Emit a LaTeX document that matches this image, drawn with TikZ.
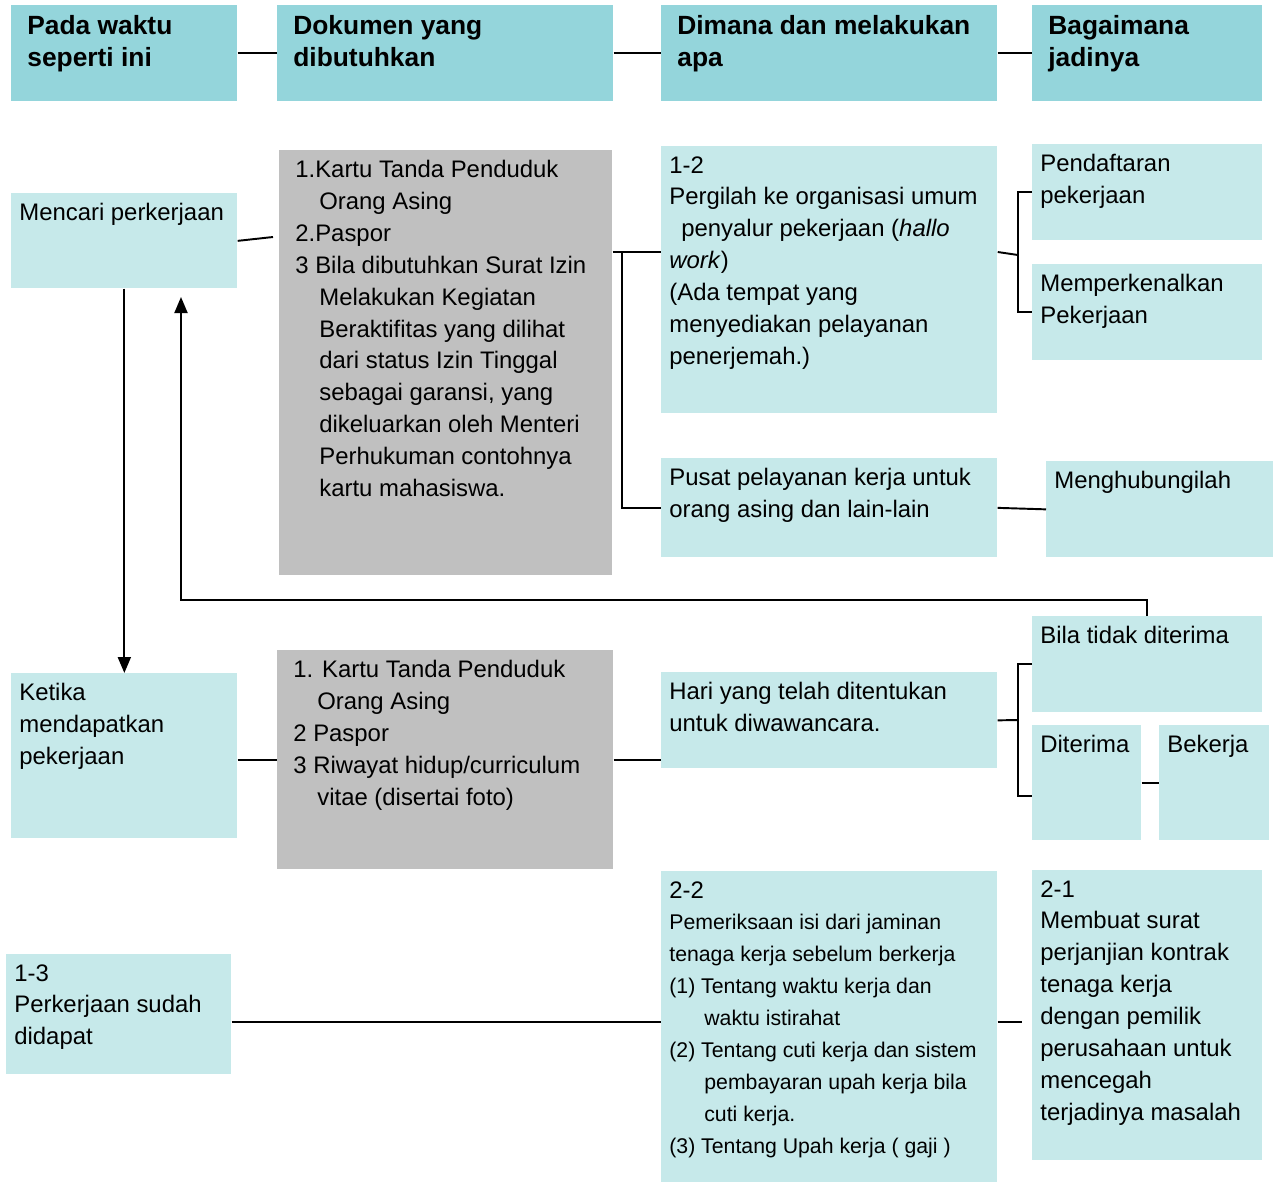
\documentclass[tikz,border=0pt]{standalone}
\usepackage{fontspec}
\setmainfont{Liberation Sans}
\usetikzlibrary{positioning,arrows.meta}

\definecolor{headcol}{RGB}{148,213,219}
\definecolor{boxcol}{RGB}{198,233,234}
\definecolor{doccol}{RGB}{192,192,192}

\tikzset{
  headbox/.style={fill=headcol, anchor=north west, inner sep=0pt},
  infobox/.style={fill=boxcol, anchor=north west, inner sep=0pt},
  docbox/.style={fill=doccol, anchor=north west, inner sep=0pt},
  headtext/.style={inner sep=0pt, align=left, font=\fontsize{15}{18.14}\selectfont\bfseries},
  boxtext/.style={inner sep=0pt, align=left, font=\fontsize{13.6}{18.14}\selectfont},
  smalltext/.style={inner sep=0pt, align=left, font=\fontsize{12.1}{18.14}\selectfont},
  link/.style={line width=1.1pt},
  flow/.style={line width=1.1pt, -{Triangle[length=0.32cm,width=0.26cm]}}
}

\begin{document}
\begin{tikzpicture}

    \useasboundingbox (0,0) rectangle (25.48,-23.66);

    % Header row
    \node[headbox, minimum width=4.52cm, minimum height=1.92cm] (pada) at (0.22,-0.10) {};
    \node[headbox, minimum width=6.72cm, minimum height=1.92cm] (dokumen) at (5.54,-0.10) {};
    \node[headbox, minimum width=6.72cm, minimum height=1.92cm] (dimana) at (13.22,-0.10) {};
    \node[headbox, minimum width=4.60cm, minimum height=1.92cm] (bagaimana) at (20.64,-0.10) {};

    \node[headtext, below right=0.2cm and 0.32cm of pada.north west] (padatxt) {Pada waktu\\seperti ini};
    \node[headtext, below right=0.2cm and 0.32cm of dokumen.north west] (dokumentxt) {Dokumen yang\\dibutuhkan};
    \node[headtext, below right=0.2cm and 0.32cm of dimana.north west] (dimanatxt) {Dimana dan melakukan\\apa};
    \node[headtext, below right=0.2cm and 0.32cm of bagaimana.north west] (bagaimanatxt) {Bagaimana\\jadinya};

    % First row: looking for work
    \node[infobox, minimum width=4.52cm, minimum height=1.90cm] (mencari) at (0.22,-3.86) {};
    \node[docbox, minimum width=6.66cm, minimum height=8.50cm] (dok1) at (5.58,-3.00) {};
    \node[infobox, minimum width=6.72cm, minimum height=5.34cm] (pergi) at (13.22,-2.92) {};
    \node[infobox, minimum width=4.60cm, minimum height=1.92cm] (daftar) at (20.64,-2.88) {};
    \node[infobox, minimum width=4.60cm, minimum height=1.92cm] (kenal) at (20.64,-5.28) {};
    \node[infobox, minimum width=6.72cm, minimum height=1.98cm] (pusat) at (13.22,-9.16) {};
    \node[infobox, minimum width=4.54cm, minimum height=1.92cm] (hubungi) at (20.92,-9.22) {};

    \node[boxtext, below right=0.2cm and 0.16cm of mencari.north west] (mencaritxt) {Mencari perkerjaan};
    \node[boxtext, below right=0.2cm and 0.32cm of dok1.north west] (dok1txt) {1.Kartu Tanda Penduduk\\
      \hspace*{0.48cm}Orang Asing\\
      2.Paspor\\
      3 Bila dibutuhkan Surat Izin\\
      \hspace*{0.48cm}Melakukan Kegiatan\\
      \hspace*{0.48cm}Beraktifitas yang dilihat\\
      \hspace*{0.48cm}dari status Izin Tinggal\\
      \hspace*{0.48cm}sebagai garansi, yang\\
      \hspace*{0.48cm}dikeluarkan oleh Menteri\\
      \hspace*{0.48cm}Perhukuman contohnya\\
      \hspace*{0.48cm}kartu mahasiswa.};
    \node[boxtext, below right=0.2cm and 0.16cm of pergi.north west] (pergitxt) {1-2\\
      Pergilah ke organisasi umum\\
      \hspace*{0.24cm}penyalur pekerjaan (\textit{hallo}\\
      \textit{work})\\
      (Ada tempat yang\\
      menyediakan pelayanan\\
      penerjemah.)};
    \node[boxtext, below right=0.2cm and 0.16cm of daftar.north west] (daftartxt) {Pendaftaran\\pekerjaan};
    \node[boxtext, below right=0.2cm and 0.16cm of kenal.north west] (kenaltxt) {Memperkenalkan\\Pekerjaan};
    \node[boxtext, below right=0.2cm and 0.16cm of pusat.north west] (pusattxt) {Pusat pelayanan kerja untuk\\orang asing dan lain-lain};
    \node[boxtext, below right=0.2cm and 0.16cm of hubungi.north west] (hubungitxt) {Menghubungilah};

    % Second row: when work is found
    \node[infobox, minimum width=4.52cm, minimum height=3.30cm] (ketika) at (0.22,-13.46) {};
    \node[docbox, minimum width=6.72cm, minimum height=4.38cm] (dok2) at (5.54,-13.00) {};
    \node[infobox, minimum width=6.72cm, minimum height=1.92cm] (hari) at (13.22,-13.44) {};
    \node[infobox, minimum width=4.60cm, minimum height=1.92cm] (tolak) at (20.64,-12.32) {};
    \node[infobox, minimum width=2.18cm, minimum height=2.30cm] (terima) at (20.64,-14.50) {};
    \node[infobox, minimum width=2.20cm, minimum height=2.30cm] (bekerja) at (23.18,-14.50) {};

    \node[boxtext, below right=0.2cm and 0.16cm of ketika.north west] (ketikatxt) {Ketika\\mendapatkan\\pekerjaan};
    \node[boxtext, below right=0.2cm and 0.32cm of dok2.north west] (dok2txt) {1. Kartu Tanda Penduduk\\
      \hspace*{0.48cm}Orang Asing\\
      2 Paspor\\
      3 Riwayat hidup/curriculum\\
      \hspace*{0.48cm}vitae (disertai foto)};
    \node[boxtext, below right=0.2cm and 0.16cm of hari.north west] (haritxt) {Hari yang telah ditentukan\\untuk diwawancara.};
    \node[boxtext, below right=0.2cm and 0.16cm of tolak.north west] (tolaktxt) {Bila tidak diterima};
    \node[boxtext, below right=0.2cm and 0.16cm of terima.north west] (terimatxt) {Diterima};
    \node[boxtext, below right=0.2cm and 0.16cm of bekerja.north west] (bekerjatxt) {Bekerja};

    % Third row: contract and checks
    \node[infobox, minimum width=4.50cm, minimum height=2.40cm] (dapat) at (0.12,-19.08) {};
    \node[infobox, minimum width=6.72cm, minimum height=6.22cm] (periksa) at (13.22,-17.42) {};
    \node[infobox, minimum width=4.60cm, minimum height=5.80cm] (kontrak) at (20.64,-17.40) {};

    \node[boxtext, below right=0.2cm and 0.16cm of dapat.north west] (dapattxt) {1-3\\Perkerjaan sudah\\didapat};
    \node[smalltext, below right=0.2cm and 0.16cm of periksa.north west] (periksatxt) {{\fontsize{13.6}{18.14}\selectfont 2-2}\\
      Pemeriksaan isi dari jaminan\\
      tenaga kerja sebelum berkerja\\
      (1) Tentang waktu kerja dan\\
      \hspace*{0.7cm}waktu istirahat\\
      (2) Tentang cuti kerja dan sistem\\
      \hspace*{0.7cm}pembayaran upah kerja bila\\
      \hspace*{0.7cm}cuti kerja.\\
      (3) Tentang Upah kerja ( gaji )};
    \node[boxtext, below right=0.2cm and 0.16cm of kontrak.north west] (kontraktxt) {2-1\\Membuat surat\\perjanjian kontrak\\tenaga kerja\\dengan pemilik\\perusahaan untuk\\mencegah\\terjadinya masalah};

    % Points where the connectors bend or stop
    \coordinate (kartuin) at (5.46,-4.74);
    \coordinate (split1) at (12.44,-5.04);
    \coordinate (split2) at (20.36,-5.10);
    \coordinate (split3) at (20.36,-14.40);
    \coordinate (turn) at (3.62,-12.00);
    \coordinate (back) at (3.62,-5.94);
    \coordinate (row3) at (20.44,-20.44);

    % Header links
    \draw[link] (pada.east) -- (dokumen.west);
    \draw[link] (dokumen.east) -- (dimana.west);
    \draw[link] (dimana.east) -- (bagaimana.west);

    % First row links
    \draw[link] (mencari.east) -- (kartuin);
    \draw[link] (dok1.east |- split1) -- (pergi.west |- split1);
    \draw[link] (split1) |- (pusat.west);
    \draw[link] (pergi.east |- split1) -- (split2);
    \draw[link] (daftar.west) -| (split2) |- (kenal.west);
    \draw[link] (pusat.east) -- (hubungi.west);

    % Arrows between the rows
    \draw[flow] (mencari.south) -- (ketika.north);
    \draw[flow] (tolak.north) |- (turn) -- (back);

    % Second row links
    \draw[link] (ketika.east |- dok2.west) -- (dok2.west);
    \draw[link] (dok2.east) -- (dok2.east -| hari.west);
    \draw[link] (hari.east) -- (split3);
    \draw[link] (tolak.west) -| (split3) |- ([yshift=-0.27cm]terima.west);
    \draw[link] (terima.east) -- (bekerja.west);

    % Third row links
    \draw[link] (dapat.east |- row3) -- (periksa.west |- row3);
    \draw[link] (periksa.east |- row3) -- (row3);

\end{tikzpicture}
\end{document}
